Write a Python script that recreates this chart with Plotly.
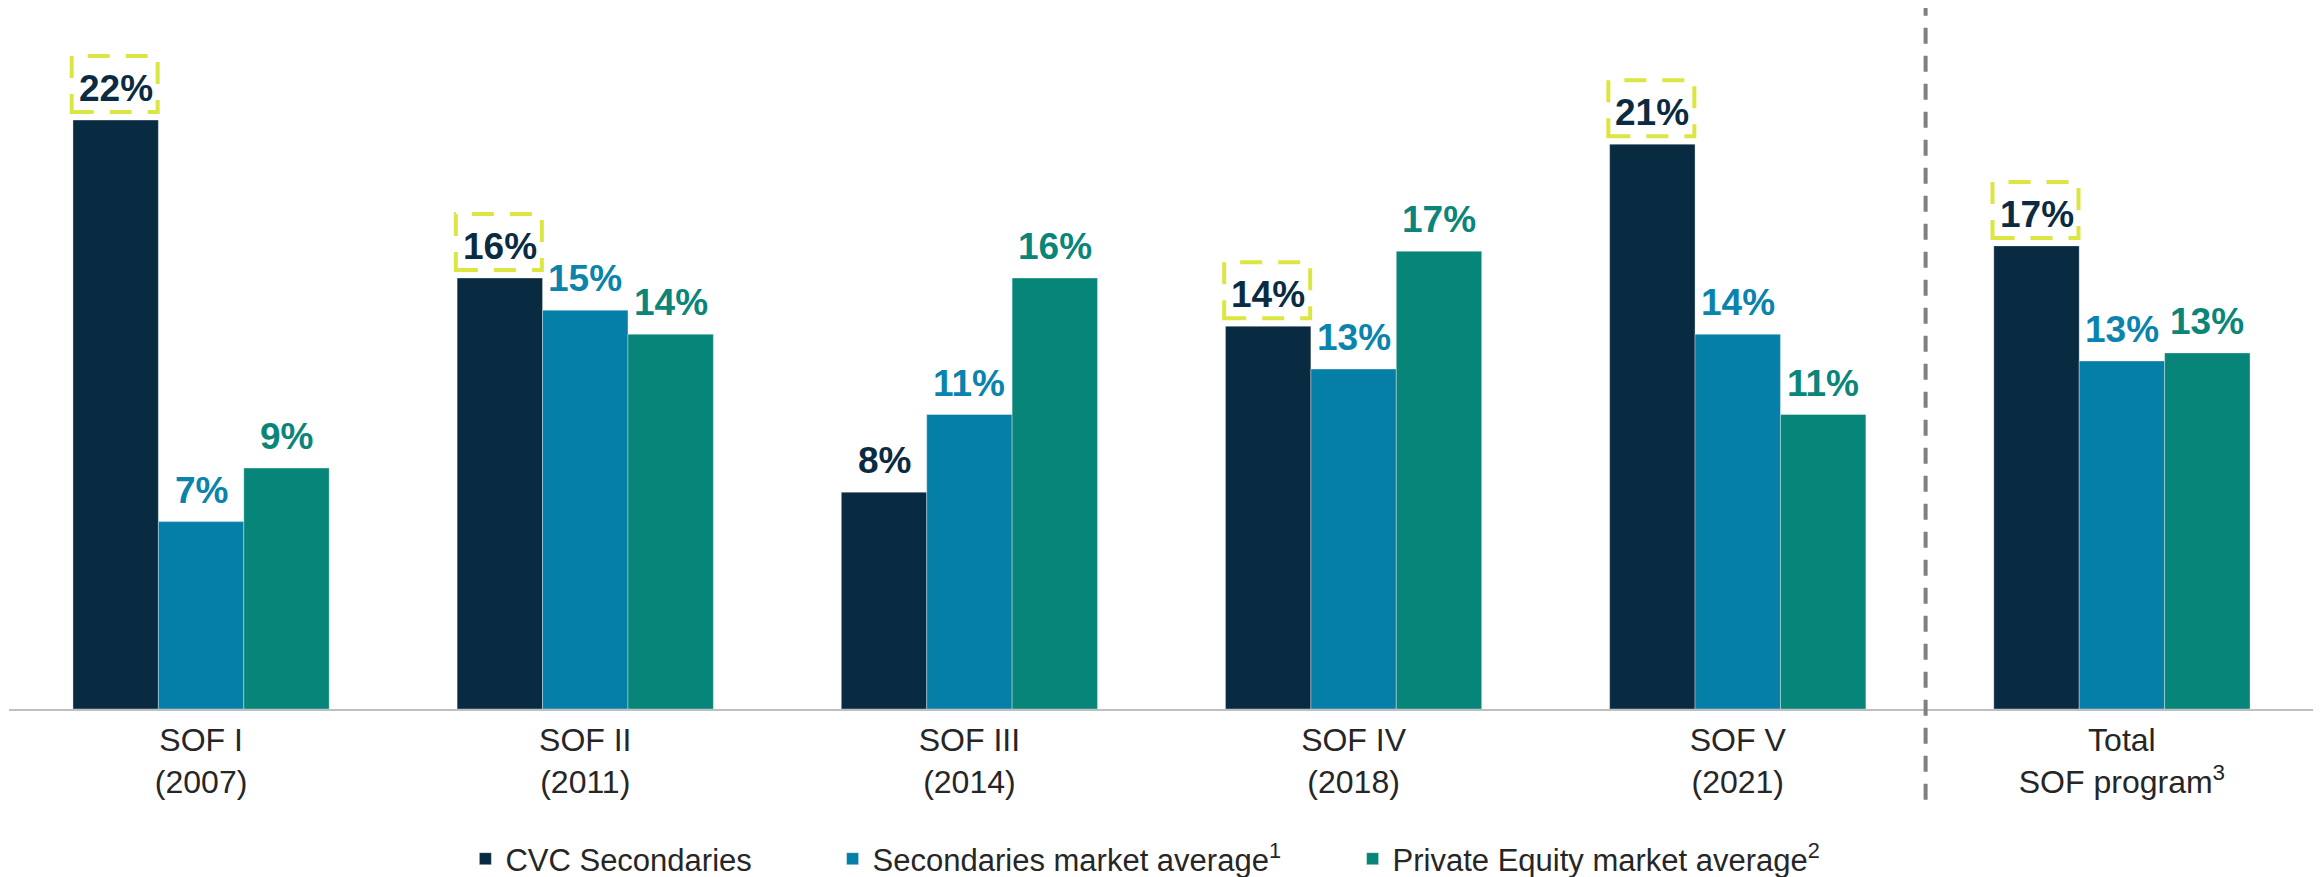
import plotly.graph_objects as go

# ---- data ----
categories = ["SOF I<br>(2007)", "SOF II<br>(2011)", "SOF III<br>(2014)",
              "SOF IV<br>(2018)", "SOF V<br>(2021)", "Total<br>SOF program<sup>3</sup>"]
cvc_values = [22.0, 16.1, 8.1, 14.3, 21.1, 17.3]
sec_values = [7.0, 14.9, 11.0, 12.7, 14.0, 13.0]
pe_values = [9.0, 14.0, 16.1, 17.1, 11.0, 13.3]
cvc_labels = ["22%", "16%", "8%", "14%", "21%", "17%"]
sec_labels = ["7%", "15%", "11%", "13%", "14%", "13%"]
pe_labels = ["9%", "14%", "16%", "17%", "11%", "13%"]
boxed = [True, True, False, True, True, True]   # CVC labels highlighted by dashed box
series_names = ["CVC Secondaries",
                "Secondaries market average<sup>1</sup>",
                "Private Equity market average<sup>2</sup>"]

# ---- style ----
# the page body has an 8px default margin, so the figure is sized to fit the window
W, H = 2313, 869
FONT = "Liberation Sans, Arial, sans-serif"
bar_colors = ["#092B41", "#067FA8", "#078579"]
label_colors = ["#0A2B41", "#0A83AD", "#0A8579"]
box_color = "#DCE642"
bargap = 0.333
mt, mb, ml, mr = 2, 168, 1, 7
plot_h = H - mt - mb
px_per_unit = 26.77
ymax = plot_h / px_per_unit

fig = go.Figure()
series = [cvc_values, sec_values, pe_values]
legends = ["legend", "legend2", "legend3"]
for k in range(3):
    fig.add_trace(go.Bar(
        x=categories, y=series[k], name=series_names[k],
        marker=dict(color=bar_colors[k], line=dict(color="rgba(255,255,255,0.35)", width=1)),
        legend=legends[k], showlegend=True, hoverinfo="skip",
    ))

bw = (1 - bargap) / 3
labels = [cvc_labels, sec_labels, pe_labels]
for k in range(3):
    for i, v in enumerate(series[k]):
        xpos = i + (k - 1) * bw
        fig.add_annotation(
            x=xpos, y=v, xref="x", yref="y", text="<b>%s</b>" % labels[k][i],
            showarrow=False, yanchor="bottom", xanchor="center", yshift=9,
            font=dict(family=FONT, size=37, color=label_colors[k]),
        )
        if k == 0 and boxed[i]:
            fig.add_shape(
                type="rect", xref="x", yref="y",
                xsizemode="pixel", ysizemode="pixel",
                xanchor=xpos, yanchor=v,
                x0=-44, x1=42, y0=8, y1=64,
                line=dict(color=box_color, width=4, dash="22px,16px"),
                fillcolor="rgba(0,0,0,0)",
            )

# dashed separator between SOF V and Total
fig.add_shape(type="line", xref="paper", yref="paper",
              x0=0.8315, x1=0.8315, y0=-0.130, y1=1.004,
              line=dict(color="#808080", width=4, dash="16px,12px"))

legend_common = dict(orientation="h", yref="container", y=0.0207, yanchor="middle",
                     xanchor="left", bgcolor="rgba(0,0,0,0)", borderwidth=0,
                     font=dict(family=FONT, size=31, color="#262626"))
fig.update_layout(
    width=W, height=H,
    margin=dict(l=ml, r=mr, t=mt, b=mb),
    plot_bgcolor="white", paper_bgcolor="white",
    barmode="group", bargap=bargap, bargroupgap=0,
    legend=dict(x=0.198, **legend_common),
    legend2=dict(x=0.3573, **legend_common),
    legend3=dict(x=0.5829, **legend_common),
    xaxis=dict(type="category", range=[-0.5, 5.5], showline=True, linecolor="#BFBFBF",
               linewidth=2, ticks="", ticklabelstandoff=2, showgrid=False,
               tickfont=dict(family=FONT, size=32, color="#262626")),
    yaxis=dict(range=[0, ymax], visible=False, showgrid=False, zeroline=False),
    font=dict(family=FONT),
)

fig.write_html("out.html")
